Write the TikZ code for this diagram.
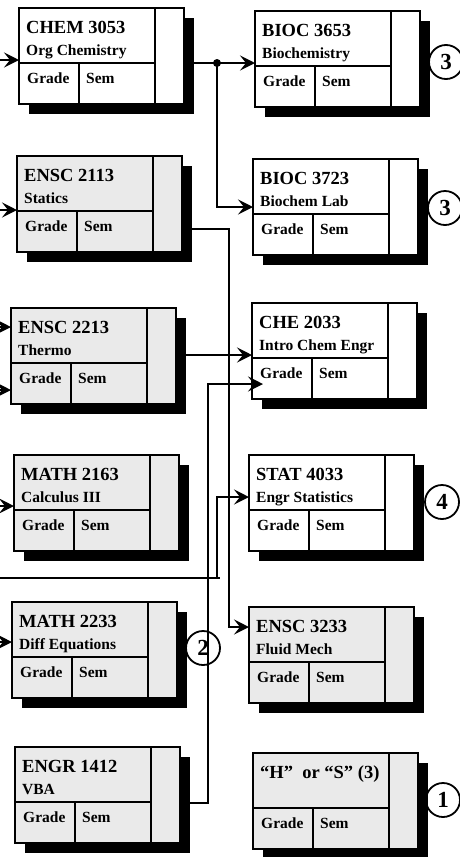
\documentclass[tikz,border=0pt]{standalone}
\usepackage{fontspec}
\setmainfont{Liberation Serif}
\usetikzlibrary{arrows.meta}
\definecolor{boxgray}{RGB}{234,234,234}
\tikzset{
  boxnode/.style={draw=black, line width=2pt, minimum width=165pt, minimum height=96pt, inner sep=0pt, outer sep=0pt},
  divline/.style={line width=2pt},
  codetext/.style={anchor=base west, inner sep=0pt, font=\fontsize{18.5}{20}\selectfont\bfseries},
  subtext/.style={anchor=base west, inner sep=0pt, font=\fontsize{15.5}{17}\selectfont\bfseries},
  conn/.style={line width=1.8pt},
  arr/.style={conn, -{Stealth[length=15pt,width=15pt,inset=6pt]}},
  num/.style={circle, draw, line width=1.8pt, minimum size=34pt, inner sep=0pt, font=\fontsize{23}{24}\selectfont\bfseries},
  junction/.style={circle, fill=black, inner sep=0pt, minimum size=8pt}
}
\newcommand\coursebox[6]{%
  \fill[black] (#2+10,#3+10) rectangle ++(165,96);
  \node[boxnode,fill=#4] (#1) at (#2+82.5,#3+48) {};
  \draw[divline] (#2+136,#3) -- (#2+136,#3+96);
  \draw[divline] (#2,#3+55) -- (#2+136,#3+55);
  \draw[divline] (#2+60,#3+55) -- (#2+60,#3+96);
  \node[codetext] (#1-code) at (#2+7,#3+25) {#5};
  \node[subtext] (#1-sub) at (#2+7,#3+47) {#6};
  \node[subtext] (#1-grade) at (#2+8,#3+75) {Grade};
  \node[subtext] (#1-sem) at (#2+67,#3+75) {Sem};
}
\begin{document}
\begin{tikzpicture}[x=1pt,y=-1pt]
\useasboundingbox (0,0) rectangle (460,857);
\clip (0,0) rectangle (460,857);
% left column
\coursebox{chem}{19}{8}{white}{CHEM 3053}{Org Chemistry}
\coursebox{ensca}{17}{156}{boxgray}{ENSC 2113}{Statics}
\coursebox{enscb}{11}{308}{boxgray}{ENSC 2213}{Thermo}
\coursebox{matha}{14}{455}{boxgray}{MATH 2163}{Calculus III}
\coursebox{mathb}{12}{602}{boxgray}{MATH 2233}{Diff Equations}
\coursebox{engr}{15}{747}{boxgray}{ENGR 1412}{VBA}
% right column
\coursebox{bioca}{255}{11}{white}{BIOC 3653}{Biochemistry}
\coursebox{biocb}{253}{159}{white}{BIOC 3723}{Biochem Lab}
\coursebox{che}{252}{303}{white}{CHE 2033}{Intro Chem Engr}
\coursebox{stat}{249}{455}{white}{STAT 4033}{Engr Statistics}
\coursebox{enscf}{249}{607}{boxgray}{ENSC 3233}{Fluid Mech}
\coursebox{hs}{253}{753}{boxgray}{“H”\ \ or “S” (3)}{}
% connectors
\node[junction] (dot) at (217,63) {};
\coordinate (inChem) at (-10,60);
\draw[arr] (inChem) -- (chem.west |- inChem);
\draw[conn] (chem.east |- dot) -- (dot.center);
\draw[arr] (dot.center) -- (bioca.west |- dot);
\coordinate (kB) at (217,207);
\draw[arr] (dot.center) -- (kB) -- (biocb.west |- kB);
\coordinate (inStat) at (-10,210);
\draw[arr] (inStat) -- (ensca.west |- inStat);
\coordinate (kF1) at (229,229);
\coordinate (kF2) at (229,627);
\draw[arr] (ensca.east |- kF1) -- (kF1) -- (kF2) -- (enscf.west |- kF2);
\coordinate (inThA) at (-10,327);
\coordinate (inThB) at (-10,390);
\draw[arr] (inThA) -- (enscb.west |- inThA);
\draw[arr] (inThB) -- (enscb.west |- inThB);
\coordinate (kT) at (0,355);
\draw[arr] (enscb.east |- kT) -- (che.west |- kT);
\coordinate (kV1) at (208,803);
\coordinate (kV2) at (208,384);
\coordinate (cheGrade) at (263,384);
\draw[arr] (engr.east |- kV1) -- (kV1) -- (kV2) -- (cheGrade);
\coordinate (inS) at (-10,578);
\coordinate (kS0) at (220,578);
\coordinate (kS1) at (217,578);
\coordinate (kS2) at (217,497);
\draw[conn] (inS) -- (kS0);
\draw[arr] (kS1) -- (kS2) -- (stat.west |- kS2);
\coordinate (inCalc) at (-10,506);
\draw[arr] (inCalc) -- (matha.west |- inCalc);
\coordinate (inDiff) at (-10,642);
\draw[arr] (inDiff) -- (mathb.west |- inDiff);
% number circles
\node[num] (n3a) at (446,62) {3};
\node[num] (n3b) at (445,208) {3};
\node[num] (n4) at (442,502) {4};
\node[num] (n2) at (203,648) {2};
\node[num] (n1) at (443,800) {1};
\end{tikzpicture}
\end{document}
